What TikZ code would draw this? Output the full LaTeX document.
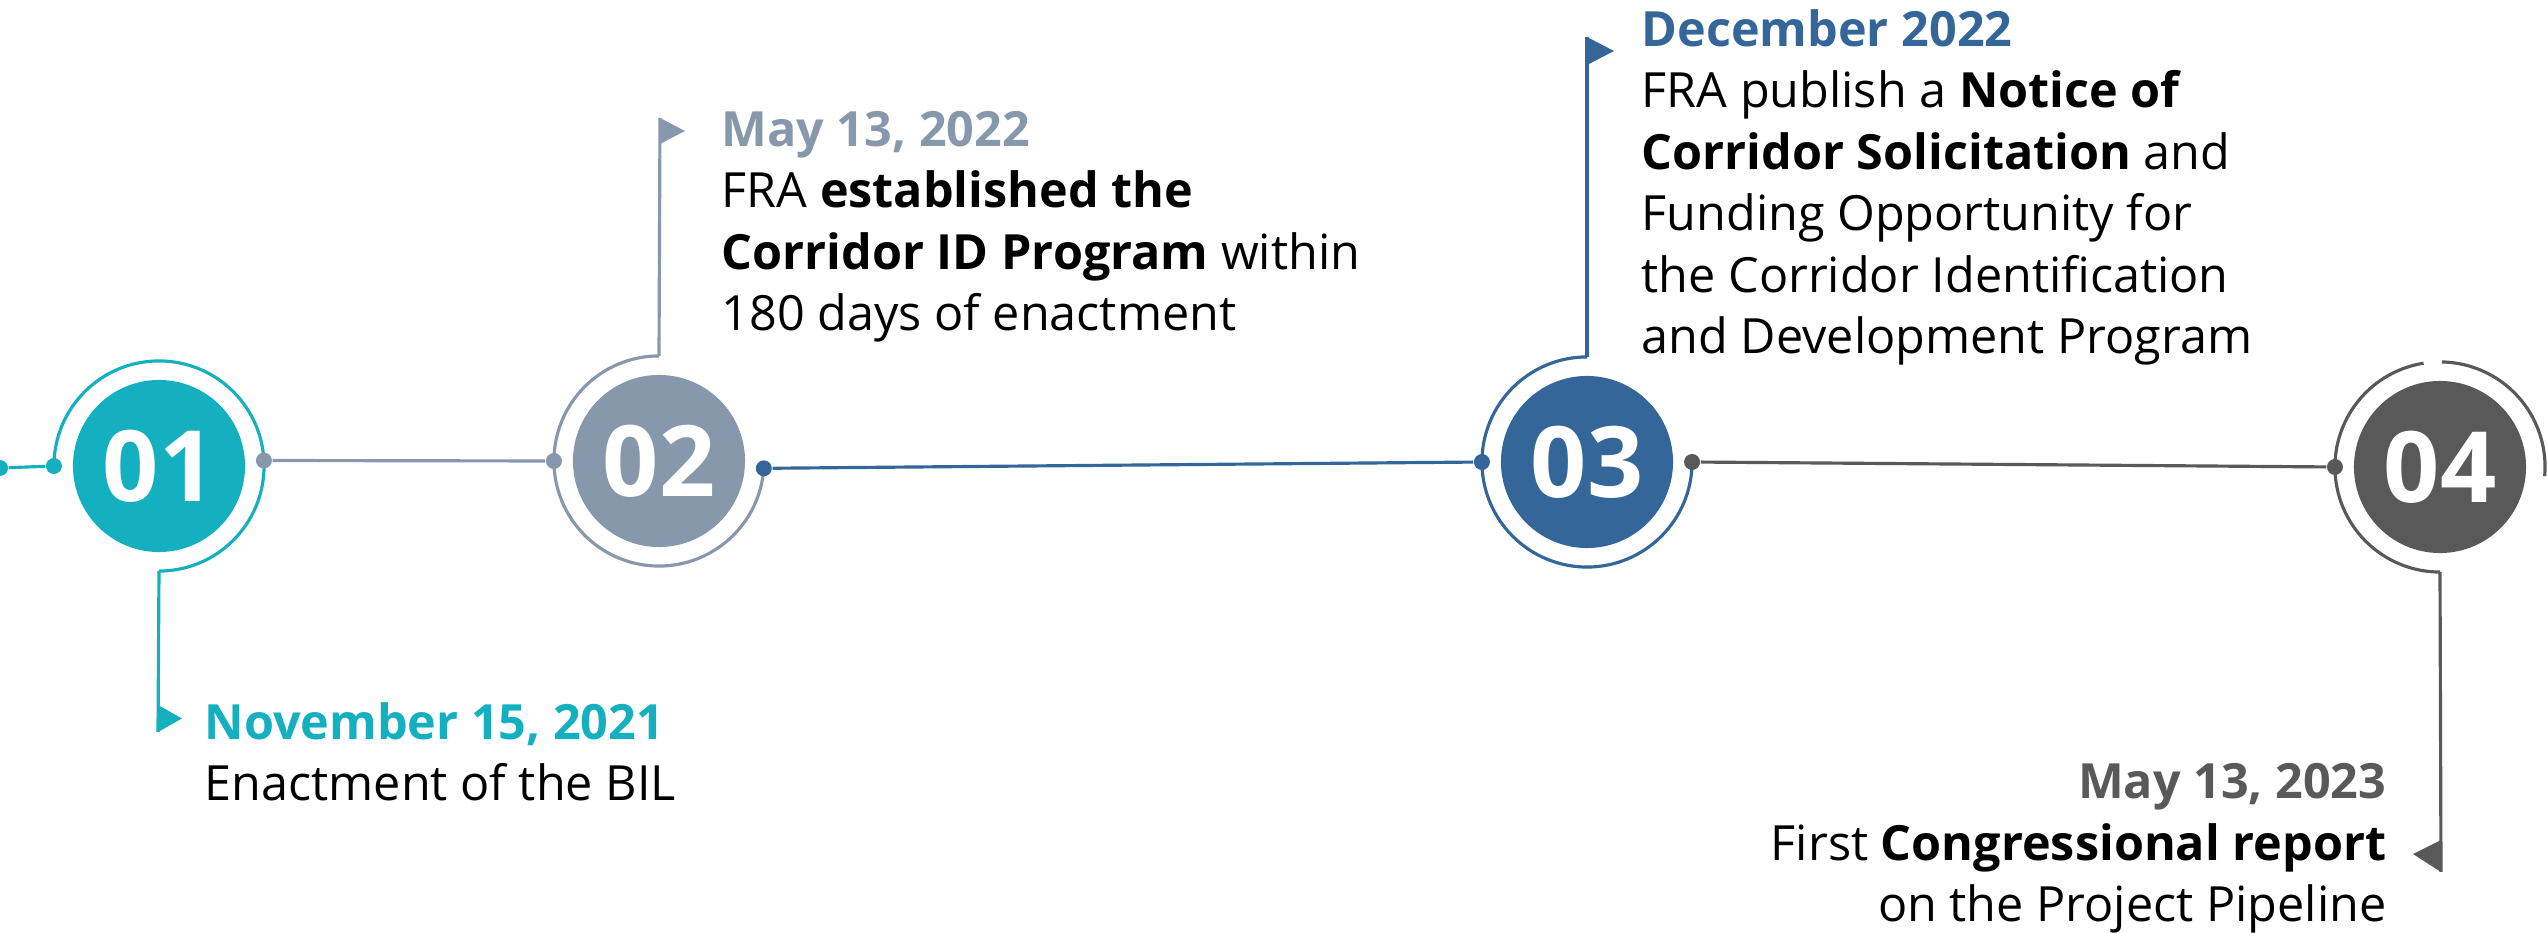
\documentclass[tikz,border=0pt]{standalone}
\usepackage{fontspec}
\setmainfont{Open Sans}
\usepackage{tikz}
\usetikzlibrary{calc,positioning}
\definecolor{cteal}{HTML}{14B0BF}
\definecolor{cslate}{HTML}{8798AD}
\definecolor{cblue}{HTML}{346699}
\definecolor{cgrey}{HTML}{595959}

\begin{document}
\begin{tikzpicture}[x=0.01cm, y=0.01cm,
    disc/.style={circle, fill=#1, minimum size=1.72cm, inner sep=0pt, text=white, font=\fontsize{28}{28}\selectfont\bfseries},
    dot/.style={circle, fill=#1, minimum size=0.16cm, inner sep=0pt},
    link/.style={draw=#1, line width=0.9pt},
    event/.style={inner sep=0pt, font=\fontsize{13.8}{17.5}\selectfont}]

                \useasboundingbox (0,0) rectangle (2547,933);

                \foreach \x/ \cx/ \cy/ \c in {01/159/467/cteal, 02/659/472/cslate, 03/1587/471/cblue, 04/2440/466/cgrey}{
                    \node[disc=\c] (c\x) at (\cx,\cy) {\x};
                }

                % rings round the discs
                \foreach \x/ \a/ \b/ \c in {01/180/-90/cteal, 02/90/356/cslate, 03/90/360/cblue, 04/99/270/cgrey, 04/89/-5/cgrey}{
                    \draw[link=\c] ($(c\x)+(\a:1.05cm)$) arc[start angle=\a, end angle=\b, radius=1.05cm];
                }

                % dots where the links meet the rings
                \foreach \x/ \s/ \a/ \c in {01/l/180/cteal, 01/r/3/cslate, 02/l/180/cslate, 02/r/-4/cblue, 03/l/180/cblue, 03/r/0/cgrey, 04/l/180/cgrey}{
                    \node[dot=\c] (d\x\s) at ($(c\x)+(\a:1.05cm)$) {};
                }
                \node[dot=cteal] (d00) at (0,465) {};

                \draw[link=cteal] (d00) -- (d01l);
                \draw[link=cslate] (d01r) -- (d02l);
                \draw[link=cblue] (d02r) -- (d03l);
                \draw[link=cgrey] (d03r) -- (d04l);

                % flags
                \coordinate (r01) at ($(c01)+(0,-105)$);
                \coordinate (r02) at ($(c02)+(0,105)$);
                \coordinate (r03) at ($(c03)+(0,105)$);
                \coordinate (r04) at ($(c04)+(0,-105)$);
                \coordinate (f01) at (158,201);
                \coordinate (f02) at (660,815);
                \coordinate (f03) at (1587,896);
                \coordinate (f04) at (2441,61);

                \draw[link=cteal] (r01) -- (f01);
                \fill[cteal] (f01) -- ++(0,27) -- ++(24,-13.5) -- cycle;
                \draw[link=cslate] (r02) -- (f02);
                \fill[cslate] (f02) -- ++(0,-26) -- ++(25,13) -- cycle;
                \draw[link=cblue] (r03) -- (f03);
                \fill[cblue] (f03) -- ++(0,-28) -- ++(27,14) -- cycle;
                \draw[link=cgrey] (r04) -- (f04);
                \fill[cgrey] (f04) -- ++(0,32) -- ++(-28,-14) -- cycle;

                % texts (base = last line)
                \node[event, anchor=base west, align=left] (t01) at (204,132) {\textcolor{cteal}{\bfseries November 15, 2021}\\Enactment of the BIL};
                \node[event, anchor=base west, align=left] (t02) at (721,602) {\textcolor{cslate}{\bfseries May 13, 2022}\\FRA \textbf{established the}\\\textbf{Corridor ID Program} within\\180 days of enactment};
                \node[event, anchor=base west, align=left] (t03) at (1641,579) {\textcolor{cblue}{\bfseries December 2022}\\FRA publish a \textbf{Notice of}\\\textbf{Corridor Solicitation} and\\Funding Opportunity for\\the Corridor Identification\\and Development Program};
                \node[event, anchor=base east, align=right] (t04) at (2387,11) {\textcolor{cgrey}{\bfseries May 13, 2023}\\First \textbf{Congressional report}\\on the Project Pipeline};

        \end{tikzpicture}
\end{document}
